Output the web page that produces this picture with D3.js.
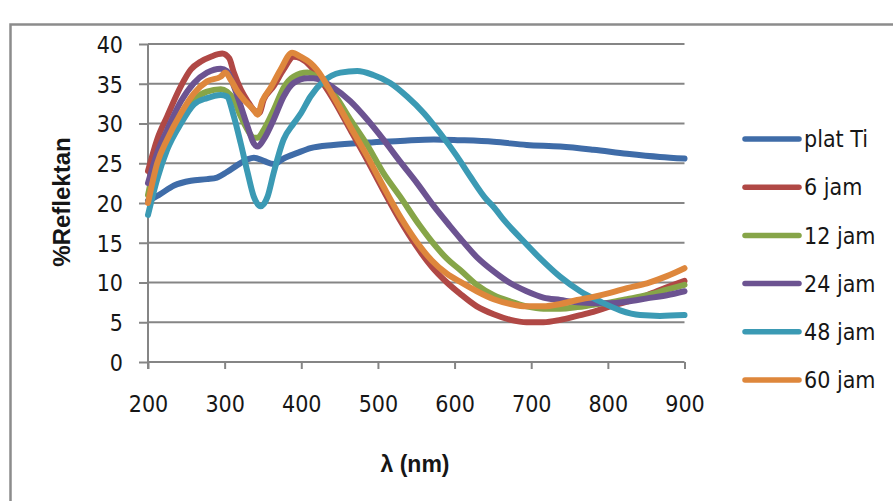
<!DOCTYPE html>
<html>
<head>
<meta charset="utf-8">
<script src="https://cdn.jsdelivr.net/npm/d3@7"></script>
<style>
  body { margin: 0; background: #fff; }
  .tick text, .legend text { font-family: "DejaVu Sans Condensed", "DejaVu Sans", sans-serif; font-stretch: condensed; font-size: 23px; fill: #161616; }
  .title { font-family: "Liberation Sans", Arial, sans-serif; font-weight: bold; fill: #161616; }
</style>
</head>
<body>
<div class="chart"></div>
<script>
// chart size
var svgWidth = 893;
var svgHeight = 501;

// tick values
var xTicks = [200, 300, 400, 500, 600, 700, 800, 900];
var yTicks = [0, 5, 10, 15, 20, 25, 30, 35, 40];

// series names and colours
var seriesNames = ["plat Ti", "6 jam", "12 jam", "24 jam", "48 jam", "60 jam"];
var seriesColors = ["#3f6ca8", "#b04845", "#86a548", "#6c5391", "#3b9ab4", "#de873c"];

// [wavelength nm, %reflectance]
var platTi = [[200,20.3],[214,21.0],[234,22.2],[256,22.8],[277,23.0],[290,23.2],[303,23.9],[317,24.8],[330,25.5],[338,25.7],[351,25.3],[364,24.9],[377,25.6],[395,26.3],[412,26.9],[442,27.3],[486,27.6],[529,27.8],[573,28.0],[607,27.9],[651,27.7],[694,27.3],[738,27.1],[781,26.7],[825,26.2],[868,25.8],[900,25.6]];

var jam6 = [[200,24.0],[212,28.0],[225,30.9],[243,34.7],[256,36.8],[269,37.8],[282,38.4],[297,38.8],[306,38.2],[312,36.4],[321,34.3],[330,32.8],[338,31.7],[345,31.3],[351,33.0],[364,34.7],[377,36.8],[390,38.4],[399,38.2],[412,37.2],[420,36.2],[442,33.0],[464,29.2],[486,25.4],[507,21.6],[529,17.8],[550,14.6],[570,12.0],[590,10.0],[607,8.6],[629,7.0],[651,6.0],[673,5.3],[694,5.0],[716,5.0],[738,5.3],[760,5.8],[781,6.3],[803,7.0],[825,7.6],[851,8.4],[877,9.4],[900,10.2]];

var jam12 = [[200,21.0],[212,25.9],[225,28.0],[243,30.9],[260,33.0],[277,34.0],[295,34.3],[303,34.0],[312,33.0],[321,30.9],[330,29.2],[338,28.2],[343,28.2],[351,29.2],[364,31.7],[377,34.5],[390,35.9],[408,36.4],[416,36.1],[442,33.8],[464,30.5],[486,27.3],[507,23.8],[529,20.8],[555,17.1],[575,14.6],[590,13.0],[607,11.6],[629,9.7],[651,8.4],[673,7.6],[694,7.0],[716,6.7],[738,6.7],[760,6.9],[781,7.2],[803,7.5],[825,7.9],[851,8.4],[877,9.1],[900,9.7]];

var jam24 = [[200,22.5],[212,26.3],[225,29.2],[243,32.8],[260,35.1],[277,36.4],[295,36.9],[303,36.6],[312,34.7],[321,32.2],[330,29.6],[338,27.5],[343,27.1],[351,28.0],[364,30.5],[377,33.4],[390,35.1],[408,35.7],[416,35.7],[442,34.5],[464,32.8],[486,30.5],[507,28.0],[529,25.2],[551,22.5],[573,19.6],[594,17.1],[607,15.6],[629,13.2],[651,11.4],[673,9.9],[694,8.9],[716,8.1],[738,7.8],[760,7.5],[781,7.4],[803,7.4],[825,7.6],[851,8.0],[877,8.4],[900,8.9]];

var jam48 = [[200,18.5],[212,23.0],[225,26.7],[243,30.0],[260,32.4],[277,33.2],[295,33.6],[303,33.4],[312,30.9],[321,27.5],[330,23.8],[338,20.8],[347,19.6],[356,20.8],[364,23.8],[377,28.0],[390,30.0],[399,31.2],[412,33.4],[429,35.3],[451,36.4],[473,36.6],[494,36.1],[516,35.1],[538,33.4],[560,31.3],[581,28.8],[603,25.9],[620,23.4],[642,20.4],[651,19.5],[664,17.9],[686,15.6],[712,13.0],[738,10.7],[764,8.9],[790,7.6],[816,6.5],[842,5.9],[868,5.8],[900,5.9]];

var jam60 = [[200,20.0],[212,25.0],[225,28.0],[243,31.3],[260,33.8],[277,35.3],[295,35.9],[301,36.4],[308,35.5],[317,34.0],[325,33.0],[338,31.7],[343,31.1],[349,32.8],[360,34.5],[373,36.8],[388,38.9],[399,38.4],[412,37.6],[420,36.8],[442,33.4],[464,29.6],[486,25.9],[507,22.1],[529,18.3],[550,15.2],[570,12.8],[590,11.1],[607,10.1],[629,8.9],[651,7.9],[673,7.3],[694,7.0],[716,7.0],[738,7.3],[760,7.8],[781,8.2],[803,8.7],[825,9.3],[851,9.9],[877,10.8],[900,11.8]];

var allSeries = [platTi, jam6, jam12, jam24, jam48, jam60];

var svg = d3.select(".chart")
    .append("svg")
    .attr("width", svgWidth)
    .attr("height", svgHeight);

// grey frame round the chart, runs off the right and bottom edges
svg.append("rect")
    .attr("x", 10.5)
    .attr("y", 24.5)
    .attr("width", 900)
    .attr("height", 500)
    .attr("fill", "#fff")
    .attr("stroke", "#8c8c8c")
    .attr("stroke-width", 2.5);

// scales
var xScale = d3.scaleLinear().domain([200, 900]).range([148, 684.5]);
var yScale = d3.scaleLinear().domain([0, 40]).range([362, 44]);

// gridlines
svg.append("g")
    .selectAll("line")
    .data(yTicks)
    .enter()
    .append("line")
    .attr("x1", xScale(200))
    .attr("x2", xScale(900))
    .attr("y1", d => yScale(d))
    .attr("y2", d => yScale(d))
    .attr("stroke", "#858585")
    .attr("stroke-width", 2);

// y axis
var leftAxis = d3.axisLeft(yScale).tickValues(yTicks).tickSize(9).tickSizeOuter(0).tickPadding(16);
var yAxis = svg.append("g")
    .attr("transform", `translate(${xScale(200)}, 0)`)
    .call(leftAxis);
yAxis.select(".domain").remove();
yAxis.selectAll(".tick line").attr("stroke", "#858585").attr("stroke-width", 2);
yAxis.selectAll(".tick text").attr("dy", "0.36em");

// x axis
var bottomAxis = d3.axisBottom(xScale).tickValues(xTicks).tickSize(7).tickSizeOuter(0);
var xAxis = svg.append("g")
    .attr("transform", `translate(0, ${yScale(0)})`)
    .call(bottomAxis);
xAxis.select(".domain").remove();
xAxis.selectAll(".tick line").attr("stroke", "#858585").attr("stroke-width", 2);
xAxis.selectAll(".tick text").attr("dy", null).attr("y", 50);

// y axis line, down to the tick ends
svg.append("line")
    .attr("x1", xScale(200))
    .attr("x2", xScale(200))
    .attr("y1", yScale(40))
    .attr("y2", yScale(0) + 7)
    .attr("stroke", "#858585")
    .attr("stroke-width", 2);

// the lines
var line = d3.line()
    .x(d => xScale(d[0]))
    .y(d => yScale(d[1]))
    .curve(d3.curveMonotoneX);

svg.append("g")
    .selectAll("path")
    .data(allSeries)
    .enter()
    .append("path")
    .attr("d", line)
    .attr("fill", "none")
    .attr("stroke", (d, i) => seriesColors[i])
    .attr("stroke-width", 6)
    .attr("stroke-linejoin", "round")
    .attr("stroke-linecap", "round");

// legend
var legend = svg.append("g").attr("class", "legend");
var rows = legend.selectAll("g")
    .data(seriesNames)
    .enter()
    .append("g")
    .attr("transform", (d, i) => `translate(745, ${139 + i * 48.2})`);

rows.append("line")
    .attr("x1", 0)
    .attr("x2", 54)
    .attr("stroke", (d, i) => seriesColors[i])
    .attr("stroke-width", 5.5)
    .attr("stroke-linecap", "round");

rows.append("text")
    .attr("x", 59)
    .attr("dy", "0.36em")
    .text(d => d);

// axis titles
svg.append("text")
    .attr("class", "title")
    .attr("transform", "translate(70, 202) rotate(-90)")
    .attr("text-anchor", "middle")
    .attr("font-size", 24)
    .text("%Reflektan");

svg.append("text")
    .attr("class", "title")
    .attr("x", 415)
    .attr("y", 472)
    .attr("text-anchor", "middle")
    .attr("font-size", 23)
    .text("λ (nm)");
</script>
</body>
</html>
